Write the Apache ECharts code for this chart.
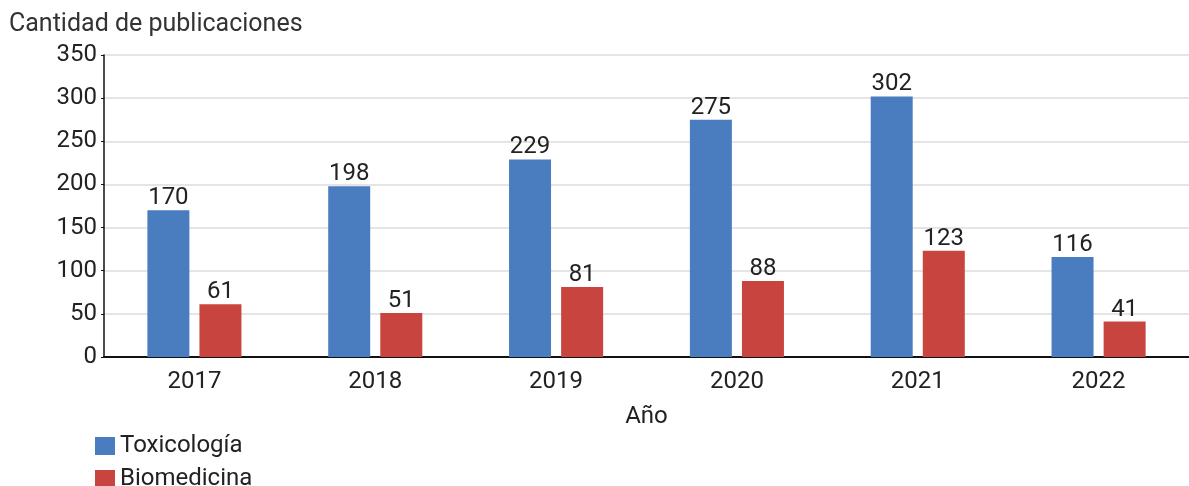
<!DOCTYPE html>
<html>
<head>
<meta charset="utf-8">
<script src="https://cdn.jsdelivr.net/npm/echarts@6/dist/echarts.min.js"></script>
<style>
  html, body { margin: 0; padding: 0; background: #fff; }
  #chart { width: 1189px; height: 486px; }
</style>
</head>
<body>
<div id="chart"></div>
<script>
// datos
const years = ["2017", "2018", "2019", "2020", "2021", "2022"];
const toxicologia = [170, 198, 229, 275, 302, 116];
const biomedicina = [61, 51, 81, 88, 123, 41];
const seriesNames = ["Toxicología", "Biomedicina"];

const font = "Roboto, 'Noto Sans', sans-serif";
const colors = ["#4a7dc0", "#c8453f"];

let myChart = echarts.init(document.getElementById("chart"));

let labelStyle = {
  show: true,
  position: "top",
  distance: 0,
  color: "#222",
  fontSize: 24,
  fontFamily: font
};

let option = {
  animation: false,
  color: colors,
  textStyle: { fontFamily: font },
  title: {
    text: "Cantidad de publicaciones",
    left: 9,
    top: 12,
    padding: 0,
    textStyle: {
      color: "#333",
      fontSize: 25,
      fontWeight: "normal",
      fontFamily: font
    }
  },
  legend: {
    data: seriesNames,
    orient: "vertical",
    left: 95,
    top: 434,
    height: 120,
    padding: 0,
    icon: "rect",
    itemWidth: 20,
    itemHeight: 18,
    itemGap: 9,
    textStyle: {
      color: "#222",
      fontSize: 24,
      fontFamily: font
    }
  },
  grid: {
    left: 104,
    right: -2,
    top: 55,
    bottom: 129,
    containLabel: false
  },
  xAxis: {
    type: "category",
    data: years,
    name: "Año",
    nameLocation: "middle",
    nameGap: 48,
    nameTextStyle: {
      color: "#222",
      fontSize: 24,
      fontFamily: font
    },
    axisTick: { show: false },
    axisLine: {
      lineStyle: { color: "#111", width: 2 }
    },
    axisLabel: {
      color: "#222",
      fontSize: 24,
      margin: 13,
      fontFamily: font
    }
  },
  yAxis: {
    type: "value",
    min: 0,
    max: 350,
    interval: 50,
    axisLine: {
      show: true,
      lineStyle: { color: "#111", width: 1.5 }
    },
    axisTick: {
      show: true,
      length: 3,
      lineStyle: { color: "#111" }
    },
    axisLabel: {
      color: "#222",
      fontSize: 24,
      margin: 7,
      fontFamily: font
    },
    splitLine: {
      show: true,
      lineStyle: { color: "#dcdcdc", width: 1.5 }
    }
  },
  series: [
    {
      name: seriesNames[0],
      type: "bar",
      data: toxicologia,
      barWidth: 42,
      barGap: "24%",
      label: labelStyle
    },
    {
      name: seriesNames[1],
      type: "bar",
      data: biomedicina,
      barWidth: 42,
      label: labelStyle
    }
  ]
};

myChart.setOption(option);
</script>
</body>
</html>
